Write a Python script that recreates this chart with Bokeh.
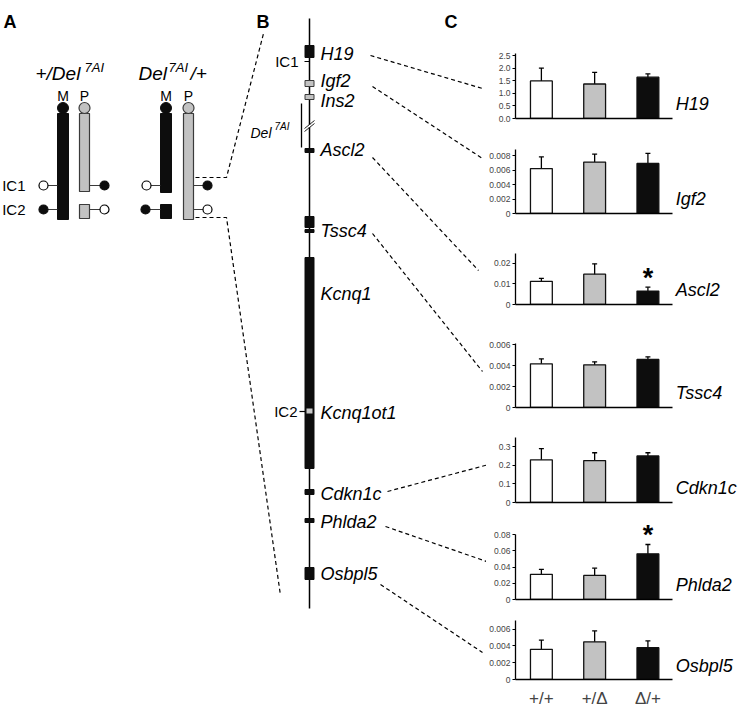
from bokeh.plotting import figure
from bokeh.models import (Range1d, ColumnDataSource, Whisker, TeeHead, FixedTicker,
                          PrintfTickFormatter)
from bokeh.layouts import row, column
from bokeh.core.properties import value
from bokeh.embed import file_html
from bokeh.resources import INLINE

FONT = "Liberation Sans"

# ---------------- Panel C data (relative expression, mean +/- error) ----------------
genotypes = ["+/+", "+/Δ", "Δ/+"]
genes_c = ["H19", "Igf2", "Ascl2", "Tssc4", "Cdkn1c", "Phlda2", "Osbpl5"]

h19_mean = [1.49, 1.37, 1.64]
h19_err = [0.51, 0.46, 0.13]
igf2_mean = [0.0062, 0.0071, 0.0069]
igf2_err = [0.0016, 0.0011, 0.0014]
ascl2_mean = [0.0112, 0.0147, 0.0065]
ascl2_err = [0.0015, 0.0050, 0.0019]
tssc4_mean = [0.00416, 0.00407, 0.00458]
tssc4_err = [0.00047, 0.00028, 0.00025]
cdkn1c_mean = [0.230, 0.226, 0.251]
cdkn1c_err = [0.060, 0.042, 0.017]
phlda2_mean = [0.0310, 0.0296, 0.0562]
phlda2_err = [0.0060, 0.0090, 0.0115]
osbpl5_mean = [0.0036, 0.0045, 0.0038]
osbpl5_err = [0.0011, 0.0013, 0.0008]

means = [h19_mean, igf2_mean, ascl2_mean, tssc4_mean, cdkn1c_mean, phlda2_mean, osbpl5_mean]
errs = [h19_err, igf2_err, ascl2_err, tssc4_err, cdkn1c_err, phlda2_err, osbpl5_err]
sig = [["", "", ""], ["", "", ""], ["", "", "*"], ["", "", ""],
       ["", "", ""], ["", "", "*"], ["", "", ""]]

yticks = [[0, 0.5, 1.0, 1.5, 2.0, 2.5],
          [0, 0.002, 0.004, 0.006, 0.008],
          [0, 0.01, 0.02],
          [0, 0.002, 0.004, 0.006],
          [0, 0.1, 0.2, 0.3],
          [0, 0.02, 0.04, 0.06, 0.08],
          [0, 0.002, 0.004, 0.006]]
ytick_labels = [["0.0", "0.5", "1.0", "1.5", "2.0", "2.5"],
                ["0", "0.002", "0.004", "0.006", "0.008"],
                ["0", "0.01", "0.02"],
                ["0", "0.002", "0.004", "0.006"],
                ["0", "0.1", "0.2", "0.3"],
                ["0", "0.02", "0.04", "0.06", "0.08"],
                ["0", "0.002", "0.004", "0.006"]]
axis_max = [2.58, 0.00883, 0.0247, 0.0061, 0.35, 0.08, 0.00707]

# ---------------- Panel B schematic (map features, top->bottom) ----------------
genes_b = ["H19", "Igf2", "Ins2", "Ascl2", "Tssc4", "Kcnq1", "Kcnq1ot1", "Cdkn1c", "Phlda2", "Osbpl5"]
feat_top = [45, 80, 94, 148, 216, 229, 257, 489, 518, 567]
feat_bot = [57, 86, 99, 152, 227, 232, 468, 494, 522, 579]
feat_kind = ["k", "g", "g", "k", "k", "k", "k", "k", "k", "k"]
label_y_b = [53, 80.5, 100, 149, 230, 293, 412, 493, 521, 573]

BLACK = "#0d0d0d"
GRAY = "#c2c2c2"
EDGE = "#3a3a3a"

W_LEFT = 486
H_ALL = 710

# ======================= Left figure: panels A and B =======================
p = figure(width=W_LEFT, height=H_ALL, x_range=Range1d(0, W_LEFT), y_range=Range1d(H_ALL, 0),
           output_backend="svg", toolbar_location=None, min_border=0,
           x_axis_location=None, y_axis_location=None, outline_line_color=None)
p.grid.visible = False


def txt(x, y, s, size, style="normal", align="left", baseline="middle"):
    p.text(x=[x], y=[y], text=[s], text_font=value(FONT), text_font_size=f"{size}px",
           text_font_style=style, text_align=align, text_baseline=baseline, text_color="black")


# panel letters
txt(3, 21, "A", 18, "bold", baseline="alphabetic")
txt(256, 21, "B", 18, "bold", baseline="alphabetic")
txt(444, 21, "C", 18, "bold", baseline="alphabetic")

# ---- Panel A titles
txt(35, 73, "+/Del", 19, "italic", baseline="alphabetic")
txt(84, 67, "7AI", 13, "italic", baseline="alphabetic")
txt(138, 73, "Del", 19, "italic", baseline="alphabetic")
txt(168, 67, "7AI", 13, "italic", baseline="alphabetic")
txt(190, 73, "/+", 19, "italic", baseline="alphabetic")
for xm, s in [(62.5, "M"), (84, "P"), (165.5, "M"), (188, "P")]:
    txt(xm, 95, s, 14, align="center", baseline="alphabetic")
txt(25, 185, "IC1", 15, align="right")
txt(25, 209, "IC2", 15, align="right")

# ---- Panel A chromosomes
p.quad(left=[57, 160, 160], right=[68, 171, 171], top=[113, 113, 204], bottom=[219, 192, 218],
       fill_color=BLACK, line_color=BLACK, line_width=1)
p.quad(left=[79, 79, 183], right=[89, 89, 193], top=[113, 204, 113], bottom=[191, 218, 219],
       fill_color=GRAY, line_color=EDGE, line_width=1.2)
p.scatter(x=[62.5, 165.5], y=[107.5, 107.5], size=11, fill_color=BLACK, line_color=BLACK)
p.scatter(x=[84, 188], y=[107.5, 107.5], size=11, fill_color=GRAY, line_color=EDGE, line_width=1.2)

# imprinting-centre lollipops
p.segment(x0=[47.5, 47.5, 89, 89, 150.5, 149.5, 193, 193],
          y0=[185, 209, 185, 209, 185, 209, 185, 209],
          x1=[57, 57, 99.5, 99.5, 160, 160, 202.5, 202.5],
          y1=[185, 209, 185, 209, 185, 209, 185, 209],
          line_color=EDGE, line_width=1.2)
p.scatter(x=[43, 104, 146, 207], y=[185, 209, 185, 209], size=9,
          fill_color="white", line_color="black", line_width=1.2)
p.scatter(x=[43, 104, 145, 207], y=[209, 185, 209, 185], size=9,
          fill_color=BLACK, line_color=BLACK, line_width=1.2)

# dashed zoom lines A -> B
p.multi_line(xs=[[195, 226, 263], [195, 226, 280]], ys=[[177, 177, 33], [217, 217, 595]],
             line_color="black", line_width=1.2, line_dash="4 3")

# ---- Panel B chromosome
p.segment(x0=[309, 309], y0=[18, 126.5], x1=[309, 309], y1=[124.5, 608],
          line_color="black", line_width=1.5)
kcol = [BLACK if k == "k" else GRAY for k in feat_kind]
lcol = [BLACK if k == "k" else EDGE for k in feat_kind]
p.quad(left=[304.5] * len(feat_top), right=[313.5] * len(feat_top), top=feat_top, bottom=feat_bot,
       fill_color=kcol, line_color=lcol, line_width=1)
p.quad(left=[306], right=[312], top=[408], bottom=[413], fill_color="#c8c8c8", line_color=None)
# IC ticks and labels
p.segment(x0=[304, 299], y0=[61, 411], x1=[309, 304.5], y1=[61, 411], line_color="black", line_width=1.2)
txt(298, 61, "IC1", 15, align="right")
txt(297, 411, "IC2", 15, align="right")
# deletion bracket and break marks
p.segment(x0=[301], y0=[103], x1=[301], y1=[147], line_color="black", line_width=1.3)
p.segment(x0=[304, 304], y0=[128, 131], x1=[314, 314], y1=[120, 123], line_color="#222", line_width=1)
txt(250, 132, "Del", 14, "italic", baseline="alphabetic")
txt(274, 126, "7AI", 10, "italic", baseline="alphabetic")
# gene labels
p.text(x=[320] * len(genes_b), y=label_y_b, text=genes_b, text_font=value(FONT),
       text_font_size="18px", text_font_style="italic", text_baseline="middle", text_align="left")

# dashed lines B -> C
p.multi_line(xs=[[370, 482], [372, 482], [372, 478], [372, 482], [387, 492], [385, 492], [380, 482]],
             ys=[[55, 88], [86, 158], [157, 270], [233, 371], [491, 463], [526, 563], [584, 652]],
             line_color="black", line_width=1.2, line_dash="4 3")

# ======================= Right column: panel C bar charts =======================
bounds = [0, 128, 228, 318, 417, 512, 609, H_ALL]
base_px = [118, 213, 304, 407, 502, 599, 687]
axis_top_px = [53, 149, 253, 343, 437, 534, 621]
COLW = 740 - W_LEFT
LEFT_B = 28
PX_PER_BAR = 53.5
XL = -26 / PX_PER_BAR
XR = XL + (COLW - LEFT_B) / PX_PER_BAR
X_AXIS_END = 132 / PX_PER_BAR
LABEL_X = 135 / PX_PER_BAR
bar_fill = ["white", GRAY, BLACK]

charts = []
for i, g in enumerate(genes_c):
    top_b, bot_b = bounds[i], bounds[i + 1]
    base = base_px[i]
    ppu = (base - axis_top_px[i]) / axis_max[i]
    ymax = (base - top_b) / ppu
    c = figure(width=COLW, height=bot_b - top_b, x_range=Range1d(XL, XR), y_range=Range1d(0, ymax),
               output_backend="svg", toolbar_location=None, min_border_left=LEFT_B,
               min_border_right=0, min_border_top=0, min_border_bottom=bot_b - base,
               outline_line_color=None)
    c.grid.visible = False
    m, e = means[i], errs[i]
    src = ColumnDataSource(dict(x=[0, 1, 2], top=m,
                                upper=[a + b for a, b in zip(m, e)],
                                lower=[a - b for a, b in zip(m, e)],
                                color=bar_fill, star=sig[i]))
    c.vbar(x="x", top="top", bottom=0, width=0.41, fill_color="color", line_color="#111",
           line_width=1.3, source=src)
    c.add_layout(Whisker(source=src, base="x", upper="upper", lower="lower", dimension="height",
                         line_color="black", line_width=1.3,
                         upper_head=TeeHead(size=5, line_width=1.3, line_color="black"),
                         lower_head=TeeHead(size=5, line_width=1.3, line_color="black")))
    c.text(x="x", y="upper", text="star", source=src, text_font=value(FONT),
           text_font_size="27px", text_font_style="bold", text_align="center",
           text_baseline="alphabetic", y_offset=-9)
    c.text(x=[LABEL_X], y=[15 / ppu], text=[g], text_font=value(FONT), text_font_size="18px",
           text_font_style="italic", text_baseline="middle", text_align="left")

    ya = c.yaxis[0]
    ya.ticker = FixedTicker(ticks=yticks[i])
    ya.formatter = PrintfTickFormatter(format="%.1f" if i == 0 else "%g")
    ya.major_label_overrides = {t: s for t, s in zip(yticks[i], ytick_labels[i])}
    ya.bounds = (0, axis_max[i])
    ya.axis_line_width = 1.3
    ya.major_tick_out = 3
    ya.major_tick_in = 0
    ya.major_tick_line_width = 1
    ya.minor_tick_line_color = None
    ya.major_label_text_font = FONT
    ya.major_label_text_font_size = "8.5px"
    ya.major_label_standoff = 2

    xa = c.xaxis[0]
    xa.bounds = (XL, X_AXIS_END)
    xa.axis_line_width = 1.3
    xa.major_tick_line_color = None
    xa.minor_tick_line_color = None
    xa.major_label_text_font = FONT
    if i == len(genes_c) - 1:
        xa.ticker = FixedTicker(ticks=[0, 1, 2])
        xa.major_label_overrides = {k: s for k, s in enumerate(genotypes)}
        xa.major_label_text_font_size = "17px"
        xa.major_label_standoff = 3
    else:
        xa.ticker = FixedTicker(ticks=[])
        xa.major_label_text_font_size = "0px"
        xa.major_label_standoff = 0
    charts.append(c)

layout = row(p, column(*charts))
open("out.html", "w").write(file_html(layout, INLINE))
